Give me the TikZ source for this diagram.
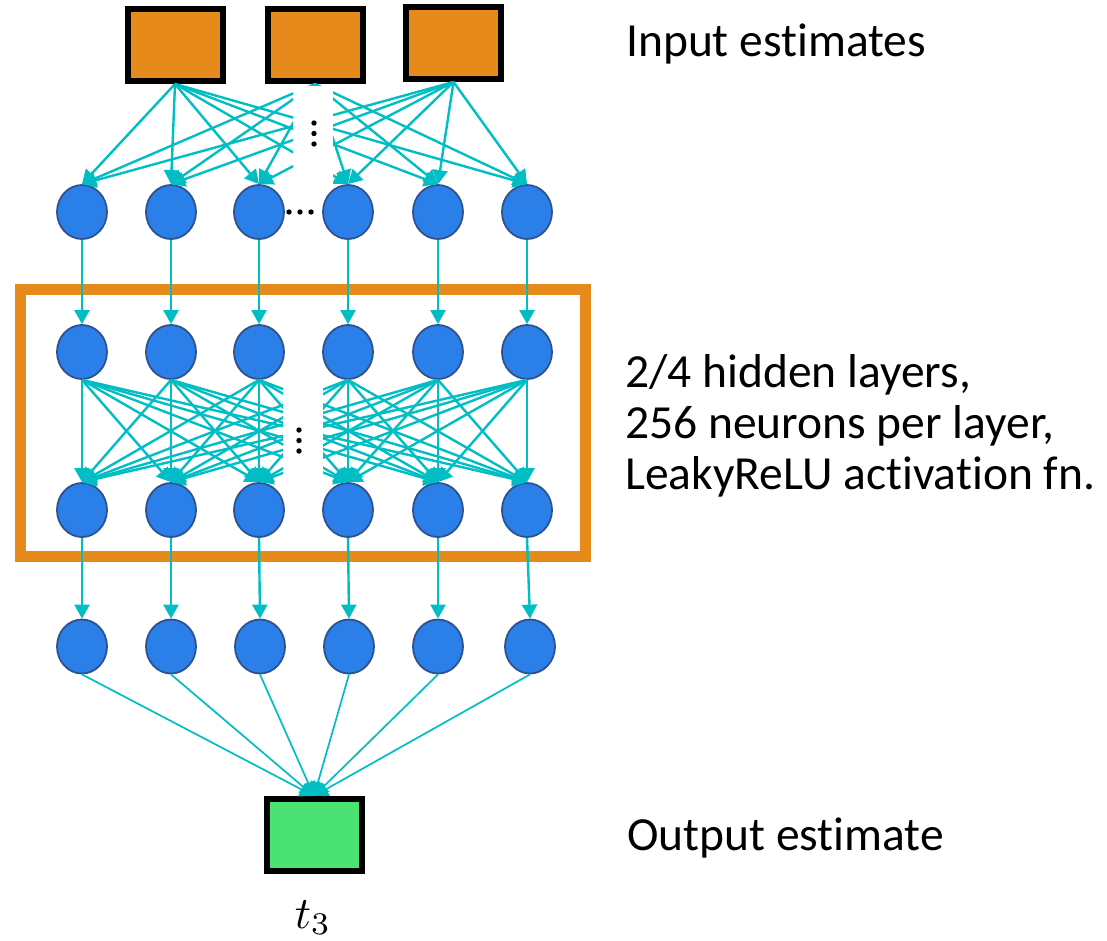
\documentclass[tikz,border=0pt]{standalone}
\usepackage{graphicx}
\usepackage{fontspec}
\setmainfont{Carlito}[Ligatures={NoCommon}]
\usetikzlibrary{arrows.meta,shapes.geometric}
\definecolor{inorange}{RGB}{230,138,27}
\definecolor{nblue}{RGB}{42,127,232}
\definecolor{nborder}{RGB}{47,82,143}
\definecolor{tealc}{RGB}{0,190,196}
\definecolor{outgreen}{RGB}{74,226,114}
\begin{document}
\begin{tikzpicture}[x=1pt,y=-1pt,
  neuron/.style={ellipse, draw=nborder, fill=nblue, line width=1.8pt, minimum width=50pt, minimum height=54pt, inner sep=0pt},
  inbox/.style={rectangle, draw=black, fill=inorange, line width=6pt, minimum width=95pt, minimum height=72pt, inner sep=0pt},
  outbox/.style={inbox, fill=outgreen},
  conn/.style={draw=tealc, line width=2.4pt, -{Triangle[length=14pt,width=15pt]}},
  thinconn/.style={conn, line width=1.7pt},
  txt/.style={anchor=base west, font=\fontsize{47.5}{57}\selectfont, inner sep=0pt},
  gapbox/.style={fill=white, draw=none},
  elldot/.style={circle, fill=black, inner sep=0pt, minimum size=5.4pt}
]
\useasboundingbox (0,0) rectangle (1107,940);
% hidden-layer frame
\draw[draw=inorange, line width=11pt] (20.5,289.5) rectangle (585.5,556.5);
% input boxes
\node[inbox] (in1) at (175,45) {};
\node[inbox] (in2) at (315,45) {};
\node[inbox] (in3) at (453.5,43) {};
% neurons
\foreach \x [count=\i] in {82,171,259,348,438,527} {
  \node[neuron] (a\i) at (\x,212) {};
  \node[neuron] (b\i) at (\x,352) {};
  \node[neuron] (c\i) at (\x,510) {};
}
\foreach \x [count=\i] in {82,171,260,349,438,530} \node[neuron] (d\i) at (\x,646.5) {};
% output box
\node[outbox] (out) at (314,835) {};
% connectors
\foreach \i in {1,2,3} \foreach \j in {1,...,6} \draw[conn] (in\i.south) -- (a\j.north);
\foreach \j in {1,...,6} \draw[conn] (a\j.south) -- (b\j.north);
\foreach \i in {1,...,6} \foreach \j in {1,...,6} \draw[conn] (b\i.south) -- (c\j.north);
\foreach \j in {1,...,6} \draw[conn] (c\j.south) -- (d\j.north);
\foreach \j in {1,...,6} \draw[thinconn] (d\j.south) -- (out.north);
% gaps
\fill[gapbox] (293,86) rectangle (333,184);
\fill[gapbox] (283,381) rectangle (323,480);
% ellipsis dots
\node[elldot] (v1) at (314,123) {};
\node[elldot] (v2) at (314,133.5) {};
\node[elldot] (v3) at (314,144) {};
\node[elldot] (h1) at (289,212) {};
\node[elldot] (h2) at (300,212) {};
\node[elldot] (h3) at (311,212) {};
\node[elldot] (m1) at (299,430) {};
\node[elldot] (m2) at (299,440.5) {};
\node[elldot] (m3) at (299,451) {};
% texts
\node[txt] (tin) at (626,56) {Input estimates};
\node[txt] (th1) at (625,387) {2/4 hidden layers,};
\node[txt] (th2) at (625,438) {256 neurons per layer,};
\node[txt] (th3) at (625,489) {LeakyReLU activation fn.};
\node[txt] (tout) at (627,850) {Output estimate};
\node[anchor=base, inner sep=0pt] (tt) at (313,928) {\scalebox{4.5}{$t_3$}};
\end{tikzpicture}
\end{document}
